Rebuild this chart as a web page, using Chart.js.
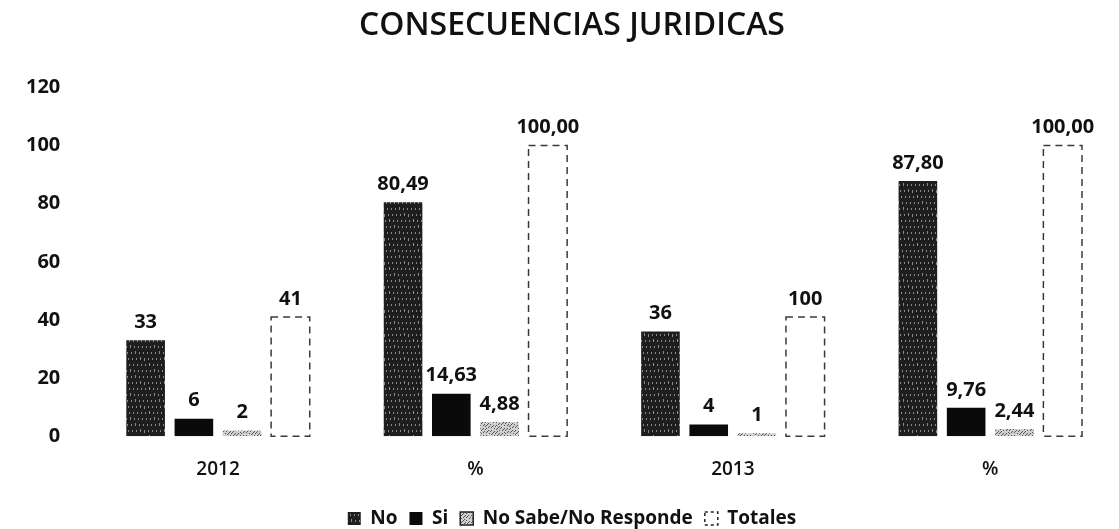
<!DOCTYPE html>
<html>
<head>
<meta charset="utf-8">
<script src="https://cdn.jsdelivr.net/npm/chart.js@4/dist/chart.umd.min.js"></script>
<style>
	html, body { margin: 0; padding: 0; background: #fff; }
	#wrap { width: 1119px; height: 529px; position: relative; }
</style>
</head>
<body>
<div id="wrap"><canvas id="chart"></canvas></div>
<script>
"use strict";

// Data

var CATEGORIES = ["2012", "%", "2013", "%"];

var NO = [33, 80.49, 36, 87.80],
	SI = [6, 14.63, 4, 9.76],
	NO_SABE = [2, 4.88, 1, 2.44],
	TOTALES = [41, 100, 41, 100];

// labels as printed on the chart (the 2013 total reads 100 over a 41 bar)
var NO_LABELS = ["33", "80,49", "36", "87,80"],
	SI_LABELS = ["6", "14,63", "4", "9,76"],
	NO_SABE_LABELS = ["2", "4,88", "1", "2,44"],
	TOTALES_LABELS = ["41", "100,00", "100", "100,00"];

var Y_TICKS = [0, 20, 40, 60, 80, 100, 120];

var FONT = "'Open Sans', 'Noto Sans', sans-serif";

// speckled fill, deterministic so every run looks the same
function speckle(base, dot, step) {
	var c = document.createElement("canvas"), g, i, x, y;

	c.width = 24;
	c.height = 24;
	g = c.getContext("2d");
	g.fillStyle = base;
	g.fillRect(0, 0, 24, 24);
	g.fillStyle = dot;
	for (i = 0; i < 24 * 24; i += step) {
		x = (i * 7) % 24;
		y = Math.floor((i * 13) / 24) % 24;
		g.fillRect(x, y, 1, 1);
	}
	return g.createPattern(c, "repeat");
}

var NO_FILL = speckle("#1e1e1e", "#8a8a8a", 11),
	NO_SABE_FILL = speckle("#d0d0d0", "#555", 5);

// value labels and dashed outline of the totals
var barExtras = {
	id: "barExtras",
	afterDatasetsDraw: function (chart) {
		var ctx = chart.ctx, labels = [NO_LABELS, SI_LABELS, NO_SABE_LABELS, TOTALES_LABELS];

		ctx.save();
		chart.data.datasets.forEach(function (ds, di) {
			var meta = chart.getDatasetMeta(di);
			meta.data.forEach(function (bar, i) {
				if (di === 3) {
					ctx.strokeStyle = "#3a3a3a";
					ctx.lineWidth = 1.5;
					ctx.setLineDash([7, 5]);
					ctx.strokeRect(bar.x - bar.width / 2, bar.y, bar.width, bar.base - bar.y);
					ctx.setLineDash([]);
				}
				ctx.fillStyle = "#111";
				ctx.font = "bold 20px " + FONT;
				ctx.textAlign = "center";
				ctx.textBaseline = "bottom";
				ctx.fillText(labels[di][i], bar.x, bar.y - 8);
			});
		});
		ctx.restore();
	}
};

new Chart(document.getElementById("chart"), {
	type: "bar",
	data: {
		labels: CATEGORIES,
		datasets: [
			{ label: "No", data: NO, backgroundColor: NO_FILL },
			{ label: "Si", data: SI, backgroundColor: "#0a0a0a" },
			{ label: "No Sabe/No Responde", data: NO_SABE, backgroundColor: NO_SABE_FILL },
			{ label: "Totales", data: TOTALES, backgroundColor: "#fff" }
		]
	},
	options: {
		responsive: true,
		maintainAspectRatio: false,
		animation: false,
		layout: { padding: { left: 25, right: 0, top: 0, bottom: -9 } },
		datasets: { bar: { categoryPercentage: 0.75, barPercentage: 0.8 } },
		scales: {
			x: {
				grid: { display: false },
				border: { display: false },
				ticks: { color: "#111", font: { family: FONT, size: 19, weight: "600" }, padding: 14 },
				afterFit: function (axis) { axis.height += 2; }	// room above the legend
			},
			y: {
				min: 0,
				max: 120,
				afterBuildTicks: function (axis) {
					axis.ticks = Y_TICKS.map(function (v) { return { value: v }; });
				},
				afterFit: function (axis) { axis.width -= 20; },
				grid: { display: false },
				border: { display: false },
				ticks: { color: "#111", font: { family: FONT, size: 20, weight: "bold" }, padding: 21 }
			}
		},
		plugins: {
			title: {
				display: true,
				text: "CONSECUENCIAS JURIDICAS",
				color: "#111",
				font: { family: FONT, size: 32, weight: "600" },
				padding: { top: 7, bottom: 42 }
			},
			legend: {
				position: "bottom",
				labels: {
					color: "#111",
					font: { family: FONT, size: 19, weight: "bold" },
					boxWidth: 13,
					boxHeight: 13,
					padding: 12,
					generateLabels: function (chart) {
						var items = Chart.defaults.plugins.legend.labels.generateLabels(chart);
						items.forEach(function (it, i) {
							it.strokeStyle = "#222";
							it.lineWidth = i >= 2 ? 1.5 : 0;
							if (i === 3) { it.lineDash = [3, 3]; }
						});
						return items;
					}
				}
			},
			tooltip: { enabled: false }
		}
	},
	plugins: [barExtras]
});
</script>
</body>
</html>
